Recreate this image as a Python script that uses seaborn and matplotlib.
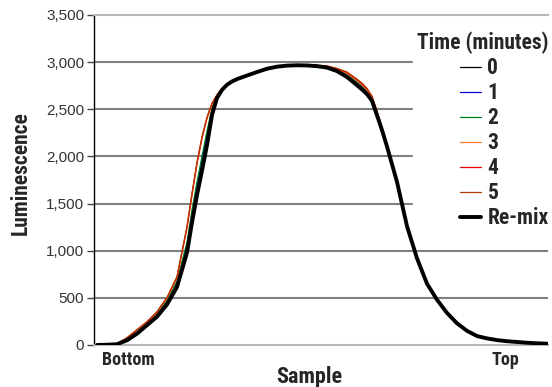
import matplotlib
matplotlib.use("Agg")
import matplotlib.pyplot as plt
import seaborn as sns
import pandas as pd
import numpy as np

# ---- data ----
sample = (list(range(0, 10)) + [9.5, 10, 10.5, 11, 11.5, 12, 12.5, 13, 13.5, 14]
          + list(range(15, 27)) + [26.5, 27, 27.5, 28, 28.5, 29] + list(range(30, 46)))

t0 = [0, 3, 9, 55, 128, 220, 315, 455, 650, 1030, 1360, 1650, 1920, 2190, 2470, 2630, 2710, 2762, 2796, 2820,
      2859, 2896, 2931, 2953, 2964, 2968, 2966, 2959, 2946, 2912, 2853, 2770,
      2727, 2676, 2603, 2445, 2287, 2108,
      1733, 1262, 922, 652, 481, 341, 231, 151, 96, 70, 52, 40, 32, 24, 18, 14]
t1 = [0, 3, 9, 58, 132, 225, 322, 462, 662, 1060, 1395, 1690, 1960, 2230, 2490, 2636, 2713, 2764, 2797, 2821,
      2860, 2897, 2932, 2954, 2965, 2969, 2967, 2961, 2949, 2916, 2862, 2780,
      2738, 2686, 2611, 2452, 2292, 2111,
      1736, 1264, 924, 654, 482, 342, 232, 152, 96, 71, 52, 40, 32, 24, 18, 14]
t2 = [0, 3, 10, 60, 136, 230, 328, 470, 675, 1090, 1430, 1730, 2000, 2270, 2510, 2641, 2715, 2766, 2798, 2822,
      2861, 2898, 2933, 2955, 2966, 2970, 2968, 2963, 2952, 2920, 2870, 2790,
      2748, 2696, 2619, 2459, 2296, 2114,
      1739, 1266, 926, 656, 484, 343, 233, 153, 97, 72, 53, 41, 32, 24, 18, 14]
t3 = [0, 4, 12, 72, 158, 242, 346, 496, 714, 1235, 1585, 1915, 2190, 2400, 2555, 2646, 2717, 2768, 2799, 2824,
      2861, 2899, 2934, 2956, 2967, 2971, 2970, 2964, 2955, 2925, 2882, 2803,
      2760, 2706, 2628, 2468, 2300, 2117,
      1742, 1270, 928, 658, 486, 345, 235, 155, 98, 72, 53, 41, 33, 25, 19, 15]
t4 = [0, 4, 12, 75, 160, 245, 350, 500, 720, 1250, 1600, 1930, 2200, 2410, 2560, 2650, 2720, 2770, 2800, 2825,
      2862, 2900, 2935, 2957, 2968, 2972, 2971, 2966, 2958, 2930, 2890, 2812,
      2770, 2715, 2635, 2475, 2305, 2120,
      1745, 1272, 930, 660, 487, 346, 236, 155, 98, 73, 54, 42, 33, 25, 19, 15]
t5 = [0, 5, 13, 78, 163, 248, 353, 505, 726, 1260, 1612, 1940, 2210, 2418, 2565, 2654, 2723, 2772, 2801, 2826,
      2863, 2901, 2936, 2958, 2969, 2973, 2972, 2968, 2961, 2934, 2896, 2820,
      2778, 2722, 2640, 2480, 2310, 2123,
      1748, 1275, 932, 662, 488, 347, 237, 156, 99, 73, 54, 42, 33, 25, 19, 15]
remix = [0, 3, 8, 50, 120, 210, 300, 430, 615, 980, 1300, 1590, 1850, 2120, 2440, 2620, 2705, 2760, 2795, 2820,
         2858, 2895, 2930, 2952, 2963, 2967, 2965, 2957, 2942, 2905, 2842, 2755,
         2710, 2660, 2590, 2435, 2280, 2105,
         1730, 1260, 920, 650, 480, 340, 230, 150, 95, 70, 52, 40, 32, 24, 18, 14]

series_names = ["0", "1", "2", "3", "4", "5", "Re-mix"]
series_vals = [t0, t1, t2, t3, t4, t5, remix]
series_colors = ["#000000", "#0000dd", "#007a1e", "#ff7a33", "#e60000", "#b33a00", "#000000"]
series_widths = [0.9, 0.9, 0.9, 0.9, 0.9, 0.9, 2.8]

yticks = [0, 500, 1000, 1500, 2000, 2500, 3000, 3500]
x_labels = ["Bottom", "Top"]
x_label_pos = [3.15, 40.8]

df = pd.DataFrame({
    "Sample": np.tile(sample, len(series_names)),
    "Luminescence": np.concatenate(series_vals),
    "Time": np.repeat(series_names, len(sample)),
})

# ---- style ----
sns.set_style("white")
plt.rcParams["font.family"] = ["Liberation Sans", "DejaVu Sans"]
cond = ["Roboto Condensed", "DejaVu Sans"]

fig = plt.figure(figsize=(5.52, 3.87), dpi=100)
ax = fig.add_axes([94 / 552, 42 / 387, 454 / 552, 330 / 387])

for name, col, lw in zip(series_names, series_colors, series_widths):
    sub = df[df["Time"] == name]
    sns.lineplot(data=sub, x="Sample", y="Luminescence", color=col, lw=lw,
                 label=name, ax=ax, zorder=5 if name == "Re-mix" else 3)

ax.set_xlim(-0.3, 45.1)
ax.set_ylim(0, 3500)
ax.set_yticks(yticks)
ax.set_yticklabels([f"{v:,}" for v in yticks], fontsize=11, color="#333333")
ax.tick_params(axis="y", length=5, width=1, color="#444444", pad=2, left=True)
ax.set_xticks(x_label_pos)
ax.set_xticklabels(x_labels, fontsize=13, fontweight="bold", family=cond)
ax.tick_params(axis="x", length=0, pad=4)

for v in yticks[1:-1]:
    ax.axhline(v, color="#7f7f7f", lw=1.5, zorder=1)

for s in ["top", "bottom"]:
    ax.spines[s].set_color("#b8b8b8")
    ax.spines[s].set_linewidth(1.5)
ax.spines["right"].set_visible(False)
ax.spines["left"].set_color("#000000")
ax.spines["left"].set_linewidth(1.0)

ax.set_xlabel("Sample", fontsize=16, fontweight="bold", family=cond)
ax.xaxis.set_label_coords((309 - 94) / 454, (345 - 366) / 330)
ax.set_ylabel("Luminescence", fontsize=15.5, fontweight="bold", family=cond)
ax.yaxis.set_label_coords((32 - 94) / 454, (345 - 173) / 330)

leg = ax.legend(title="Time (minutes)", loc="upper right", bbox_to_anchor=(1.011, 0.962),
                frameon=True, facecolor="white", edgecolor="white", framealpha=1,
                handlelength=1.0, handletextpad=0.28, labelspacing=0.14, borderpad=0.2,
                borderaxespad=0,
                prop={"family": cond, "weight": "bold", "size": 15.5})
leg.get_title().set_fontproperties({"family": cond, "weight": "bold", "size": 15.5})
leg._legend_box.align = "right"
leg.set_zorder(2)

fig.savefig("out.png", dpi=100)
